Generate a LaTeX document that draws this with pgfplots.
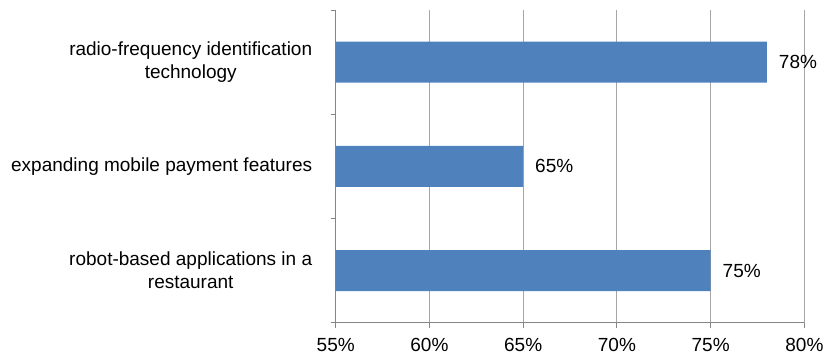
\documentclass[border=0pt]{standalone}
\usepackage{pgfplots}
\pgfplotsset{compat=1.18}
\usepackage{fontspec}
\setmainfont{Liberation Sans}
\definecolor{barblue}{HTML}{4F81BD}
\definecolor{gridgray}{HTML}{A6A6A6}
\definecolor{axisgray}{HTML}{868686}
\begin{document}
\begin{tikzpicture}[x=1bp,y=1bp]
\useasboundingbox (0,0) rectangle (826,355);
\begin{axis}[
  at={(335.7bp,32.3bp)}, anchor=south west,
  scale only axis, width=468.7bp, height=312.7bp,
  xbar, bar width=41bp,
  xmin=55, xmax=80, ymin=-0.5, ymax=2.5,
  xtick={55,60,65,70,75,80},
  xticklabel={\pgfmathprintnumber{\tick}\%},
  /pgf/number format/assume math mode=true,
  ytick={-0.5,0.5,1.5,2.5}, yticklabels={},
  extra y ticks={0,1,2},
  extra y tick labels={{robot-based applications in a\\restaurant},{expanding mobile payment features},{radio-frequency identification\\technology}},
  extra y tick style={major tick length=0pt, grid=none,
    yticklabel style={align=center, xshift=-20bp}},
  font=\fontsize{19bp}{23bp}\selectfont,
  xmajorgrids, major grid style={gridgray, line width=0.9bp},
  axis x line*=bottom, axis y line*=left,
  axis line style={axisgray, line width=0.9bp},
  tick style={axisgray, line width=0.9bp},
  tick align=outside, major tick length=5bp,
  xticklabel style={yshift=-7bp},
  nodes near coords={\pgfmathprintnumber{\pgfplotspointmeta}\%},
  point meta=x,
  nodes near coords style={anchor=west, xshift=8.5bp, font=\fontsize{19bp}{23bp}\selectfont},
  clip=false,
]
\addplot[fill=barblue, draw=none] coordinates {(75,0) (65,1) (78,2)};
\end{axis}
\end{tikzpicture}
\end{document}
